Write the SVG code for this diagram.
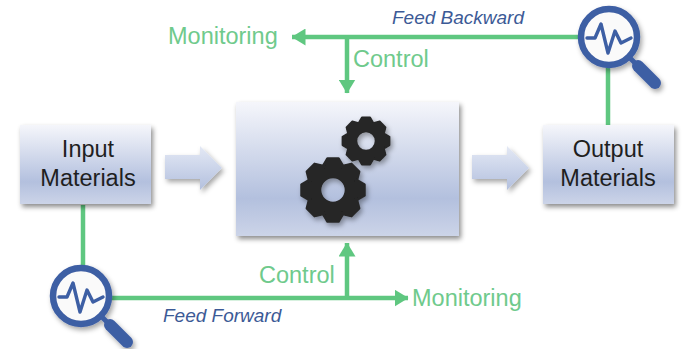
<svg xmlns="http://www.w3.org/2000/svg" width="687" height="349" viewBox="0 0 687 349">
<defs>
<linearGradient id="box" x1="0" y1="0" x2="0" y2="1"><stop offset="0" stop-color="#f5f6fb"/><stop offset="0.72" stop-color="#b3c0de"/><stop offset="1" stop-color="#ccd4e8"/></linearGradient>
<linearGradient id="ar" x1="0" y1="0" x2="0" y2="1"><stop offset="0" stop-color="#e4e9f5"/><stop offset="1" stop-color="#b3c0de"/></linearGradient>
<filter id="sh" x="-15%" y="-15%" width="130%" height="135%"><feDropShadow dx="2" dy="3" stdDeviation="2.5" flood-color="#000" flood-opacity="0.45"/></filter>
<filter id="sg" x="-30%" y="-30%" width="170%" height="170%"><feDropShadow dx="2" dy="3" stdDeviation="2.5" flood-color="#000" flood-opacity="0.35"/></filter>
<marker id="ah" viewBox="0 0 14 17" refX="13.5" refY="8.5" markerWidth="14" markerHeight="17" markerUnits="userSpaceOnUse" orient="auto"><path d="M0 0L14 8.5L0 17Z" fill="#5fc780"/></marker>
<g id="lens">
<circle r="28" fill="#fff" fill-opacity="0.85" stroke="#3e5ea4" stroke-width="6.5"/>
<path d="M-22 1H-14L-8-13L-1 16L6-6L12 6L22 1" fill="none" stroke="#3e5ea4" stroke-width="3.4" stroke-linejoin="round" stroke-linecap="round"/>
<path d="M20 20L27 27" stroke="#3e5ea4" stroke-width="5"/>
<path d="M29 29L46 46" stroke="#3e5ea4" stroke-width="12" stroke-linecap="round"/>
</g>
<path id="tooth" d="M-10.5-23L-5.5-31.5H5.5L10.5-23Z" fill="#262626" stroke="#262626" stroke-width="2.5" stroke-linejoin="round"/>
<g id="gearshape">
<circle r="18.85" fill="none" stroke="#262626" stroke-width="14.3"/>
<use href="#tooth"/>
<use href="#tooth" transform="rotate(45)"/>
<use href="#tooth" transform="rotate(90)"/>
<use href="#tooth" transform="rotate(135)"/>
<use href="#tooth" transform="rotate(180)"/>
<use href="#tooth" transform="rotate(225)"/>
<use href="#tooth" transform="rotate(270)"/>
<use href="#tooth" transform="rotate(315)"/>
</g>
</defs>
<style>
.g{fill:none;stroke:#5fc780;stroke-width:4.5}
.t{font-family:"Liberation Sans",Arial,sans-serif;font-size:23.5px}
.m{fill:#6fca8c}
.d{fill:#1f1f1f;text-anchor:middle}
.f{font-family:"Liberation Sans",Arial,sans-serif;font-size:19px;font-style:italic;fill:#3c5a96}
</style>
<rect width="687" height="349" fill="#fff"/>
<g id="connectors">
<path class="g" d="M582 37H292" marker-end="url(#ah)"/>
<path class="g" d="M347 37V93" marker-end="url(#ah)"/>
<path class="g" d="M608 68V125"/>
<path class="g" d="M83 205V270"/>
<path class="g" d="M110 298H408" marker-end="url(#ah)"/>
<path class="g" d="M347 298V243" marker-end="url(#ah)"/>
<path d="M165 155H200V146L222 168L200 190V179H165Z" fill="url(#ar)" filter="url(#sg)"/>
<path d="M472 155H507V146L529 168L507 190V179H472Z" fill="url(#ar)" filter="url(#sg)"/>
</g>
<g id="input"><rect x="20" y="125" width="131" height="79" fill="url(#box)" filter="url(#sh)"/>
<text class="t d" x="88" y="157">Input</text><text class="t d" x="88" y="186">Materials</text></g>
<g id="output"><rect x="543" y="125" width="131" height="79" fill="url(#box)" filter="url(#sh)"/>
<text class="t d" x="608" y="157">Output</text><text class="t d" x="608" y="186">Materials</text></g>
<g id="process"><rect x="236" y="102" width="223" height="134" fill="url(#box)" filter="url(#sh)"/>
<g filter="url(#sg)">
<use href="#gearshape" transform="translate(333 190)"/>
<use href="#gearshape" transform="translate(366 141) scale(0.745)"/>
</g></g>
<g id="sensor-top" filter="url(#sg)"><use href="#lens" x="609" y="37"/></g>
<g id="sensor-bottom" filter="url(#sg)"><use href="#lens" x="81" y="296"/></g>
<g id="labels">
<text class="t m" x="168" y="44">Monitoring</text>
<text class="t m" x="353" y="67">Control</text>
<text class="t m" x="259" y="283">Control</text>
<text class="t m" x="412" y="306">Monitoring</text>
<text class="f" x="392" y="24">Feed Backward</text>
<text class="f" x="163" y="322">Feed Forward</text>
</g>
</svg>
